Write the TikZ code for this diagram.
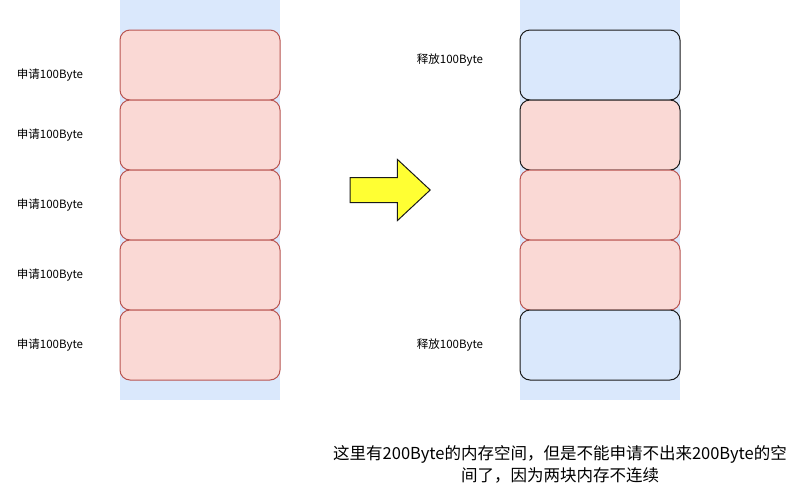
\documentclass[tikz,border=0pt]{standalone}
\usepackage{fontspec}
\setmainfont{Noto Sans CJK SC}
\usepackage{tikz}
\usetikzlibrary{positioning,shapes.arrows}
\definecolor{colbg}{HTML}{DAE8FC}
\definecolor{usedbg}{HTML}{FAD9D5}
\definecolor{useddraw}{HTML}{B85450}
\definecolor{freebg}{HTML}{DAE8FC}
\definecolor{edge}{HTML}{1A1A1A}
\definecolor{arrowbg}{HTML}{FFFF33}
\tikzset{
  column/.style={rectangle,fill=colbg,minimum width=160pt,minimum height=400pt,inner sep=0pt},
  used/.style={rectangle,rounded corners=10pt,draw=useddraw,fill=usedbg,line width=1pt,
    minimum width=160pt,minimum height=70pt,inner sep=0pt},
  usedk/.style={used,draw=edge},
  freed/.style={used,draw=edge,fill=freebg},
  lbl/.style={font=\fontsize{11.5}{13}\selectfont,text=black,inner sep=0pt},
  note/.style={font=\fontsize{16.5}{22}\selectfont,align=center,inner sep=0pt},
  bigarrow/.style={single arrow,draw=edge,fill=arrowbg,line width=1pt,
    minimum height=80pt,minimum width=60pt,single arrow head extend=18pt,
    single arrow tip angle=86,inner xsep=0pt,inner ysep=12pt},
}

\begin{document}
\begin{tikzpicture}[x=1pt,y=-1pt]
  \useasboundingbox (0,0) rectangle (806,491);
  % before
  \node[column] (colA) at (200,200) {};
  \foreach \i/\y/\ly in {1/65/75,2/135/135,3/205/205,4/275/275,5/345/345} {
    \node[used] (a\i) at (200,\y) {};
    \node[lbl] (la\i) at (50,\ly) {申请100Byte};
  }
  % after
  \node[column] (colB) at (600,200) {};
  \node[freed] (b1) at (600,65) {};
  \node[usedk] (b2) at (600,135) {};
  \node[used] (b3) at (600,205) {};
  \node[used] (b4) at (600,275) {};
  \node[freed] (b5) at (600,345) {};
  \node[lbl] (lb1) at (450,60) {释放100Byte};
  \node[lbl] (lb5) at (450,345) {释放100Byte};
  \node[bigarrow] (go) at (383.5,190) {};
  \node[note] (msg) at (560,464) {这里有200Byte的内存空间，但是不能申请不出来200Byte的空\\间了，因为两块内存不连续};
\end{tikzpicture}
\end{document}
